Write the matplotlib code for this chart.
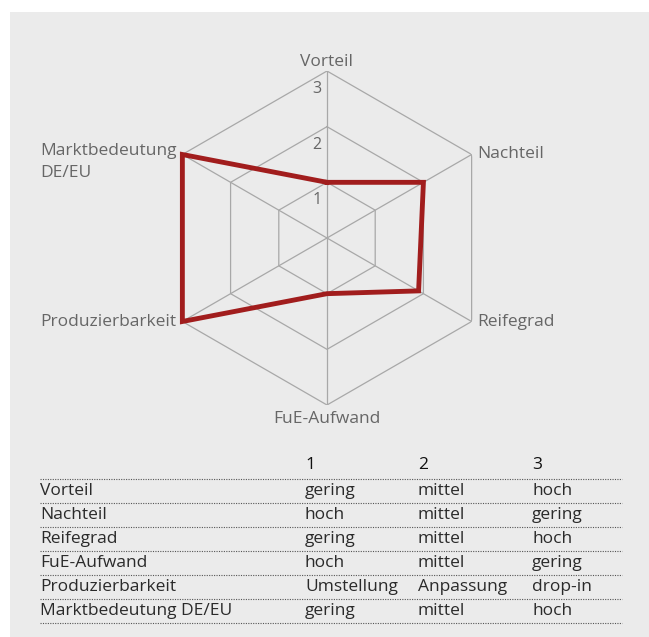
import numpy as np
import matplotlib
matplotlib.use("Agg")
import matplotlib.pyplot as plt
from matplotlib.patches import Rectangle
from matplotlib.lines import Line2D

plt.rcParams['font.family'] = ['Open Sans', 'DejaVu Sans']

# ---- data ----
categories = ["Vorteil", "Nachteil", "Reifegrad", "FuE-Aufwand",
              "Produzierbarkeit", "Marktbedeutung\nDE/EU"]
values = [1, 2, 1.9, 1, 3, 3]
rings = [1, 2, 3]
ring_labels = ["1", "2", "3"]

table_header = ["1", "2", "3"]
table_rows = ["Vorteil", "Nachteil", "Reifegrad", "FuE-Aufwand",
              "Produzierbarkeit", "Marktbedeutung DE/EU"]
table_level1 = ["gering", "hoch", "gering", "hoch", "Umstellung", "gering"]
table_level2 = ["mittel", "mittel", "mittel", "mittel", "Anpassung", "mittel"]
table_level3 = ["hoch", "gering", "hoch", "gering", "drop-in", "hoch"]

W, H = 649, 637
fig = plt.figure(figsize=(W / 100, H / 100), dpi=100)
fig.patch.set_facecolor("white")

# gray panel
fig.patches.append(Rectangle((10 / W, 0), 1 - 10 / W, 1 - 12 / H,
                             transform=fig.transFigure, facecolor="#ebebeb",
                             edgecolor="none", zorder=-5))

cx, cy, R = 327, 238, 167
ax = fig.add_axes([(cx - R) / W, (H - cy - R) / H, 2 * R / W, 2 * R / H],
                  projection="polar")
ax.set_zorder(2)
ax.set_theta_zero_location("N")
ax.set_theta_direction(-1)
ax.set_ylim(0, 3)
ax.set_facecolor("none")
ax.patch.set_visible(False)
ax.grid(False)
ax.spines["polar"].set_visible(False)
ax.set_xticks([])
ax.set_yticks([])

n = len(categories)
angles = np.linspace(0, 2 * np.pi, n, endpoint=False)
closed = np.concatenate([angles, angles[:1]])

gc = "#a8a8a8"
for r in rings:
    ax.plot(closed, [r] * (n + 1), color=gc, lw=0.9, zorder=1)
for a in angles:
    ax.plot([a, a], [0, rings[-1]], color=gc, lw=0.9, zorder=1)

vals = list(values) + [values[0]]
ax.plot(closed, vals, color="#a11d1d", lw=3.5, zorder=3,
        solid_joinstyle="miter", clip_on=False)

lc = "#666666"
for r, lab in zip(rings, ring_labels):
    ax.annotate(lab, xy=(0, r), xytext=(-4, -13), textcoords="offset points",
                ha="right", va="center", fontsize=11.5, color=lc)

# axis labels
fsl = 12.5
offsets = [(0, 1, "center", "bottom"), (4, 0, "left", "center"),
           (4, 0, "left", "center"), (0, -4, "center", "top"),
           (-4, 0, "right", "center"), (-4, 0, "right", "center")]
for a, cat, (dx, dy, ha, va) in zip(angles, categories, offsets):
    if "\n" in cat:
        ax.annotate(cat, xy=(a, rings[-1]), xytext=(dx, 8),
                    textcoords="offset points", ha=ha, va="top",
                    multialignment="left", fontsize=fsl, color=lc,
                    linespacing=1.45)
    else:
        ax.annotate(cat, xy=(a, rings[-1]), xytext=(dx, dy),
                    textcoords="offset points", ha=ha, va=va,
                    fontsize=fsl, color=lc)

# ---- table ----
tc = "#2a2a2a"
xs = [40, 305, 418, 532]
x_end = 622
header_y = 465
row_y0 = 491
row_dy = 24
fs = 12.5

def fx(px):
    return px / W

def fy(py):
    return 1 - py / H

for x, h in zip(xs[1:], table_header):
    fig.text(fx(x), fy(header_y), h, ha="left", va="center", fontsize=fs,
             color="#111111")

line_ys = [479 + i * row_dy for i in range(len(table_rows) + 1)]
for ly in line_ys:
    fig.add_artist(Line2D([fx(xs[0]), fx(x_end)], [fy(ly), fy(ly)],
                          transform=fig.transFigure, color="#555555",
                          lw=0.8, linestyle=(0, (1, 1.2))))

for i, (lab, l1, l2, l3) in enumerate(zip(table_rows, table_level1,
                                          table_level2, table_level3)):
    y = fy(row_y0 + i * row_dy)
    for x, t in zip(xs, [lab, l1, l2, l3]):
        fig.text(fx(x), y, t, ha="left", va="center", fontsize=fs, color=tc)

fig.savefig("out.png", dpi=100, facecolor="white")
